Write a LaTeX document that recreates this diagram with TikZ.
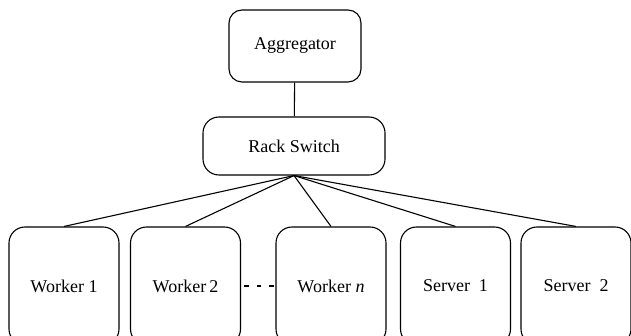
\documentclass[tikz,border=0pt]{standalone}
\usepackage{fontspec}
\setmainfont{Liberation Serif}
\usetikzlibrary{positioning}

\begin{document}
\begin{tikzpicture}[
  x=1pt,y=1pt,
  box/.style={draw, rounded corners=13pt, line width=1.1pt, align=center, font=\fontsize{18}{20}\selectfont, inner sep=0pt},
  top/.style={box, minimum width=132pt, minimum height=72pt},
  switch/.style={box, minimum width=182pt, minimum height=58pt, rounded corners=16pt},
  host/.style={box, minimum width=110pt, minimum height=118pt, rounded corners=16pt},
  link/.style={line width=1.1pt}
]
\useasboundingbox (0,0) rectangle (631,-336);
\clip (0,0) rectangle (631,-336);
\node[top] (agg) at (295,-46) {Aggregator};
\node[switch] (rack) at (294,-146) {Rack Switch};
\node[host] (w1) at (64,-286) {Worker 1};
\node[host] (w2) at (185.5,-286) {Worker\,2};
\node[host] (wn) at (331,-286) {Worker \textit{n}};
\node[host] (s1) at (455.5,-286) {Server~~1};
\node[host] (s2) at (576,-286) {Server~~2};
\draw[link] (agg) -- (rack);
\draw[link] (rack.south) -- (w1.north); \draw[link] (rack.south) -- (w2.north); \draw[link] (rack.south) -- (wn.north); \draw[link] (rack.south) -- (s1.north); \draw[link] (rack.south) -- (s2.north);
\draw[line width=2.4pt, dash pattern=on 4.5pt off 8pt, dash phase=-3pt] (w2.east) -- (wn.west);
\end{tikzpicture}
\end{document}
